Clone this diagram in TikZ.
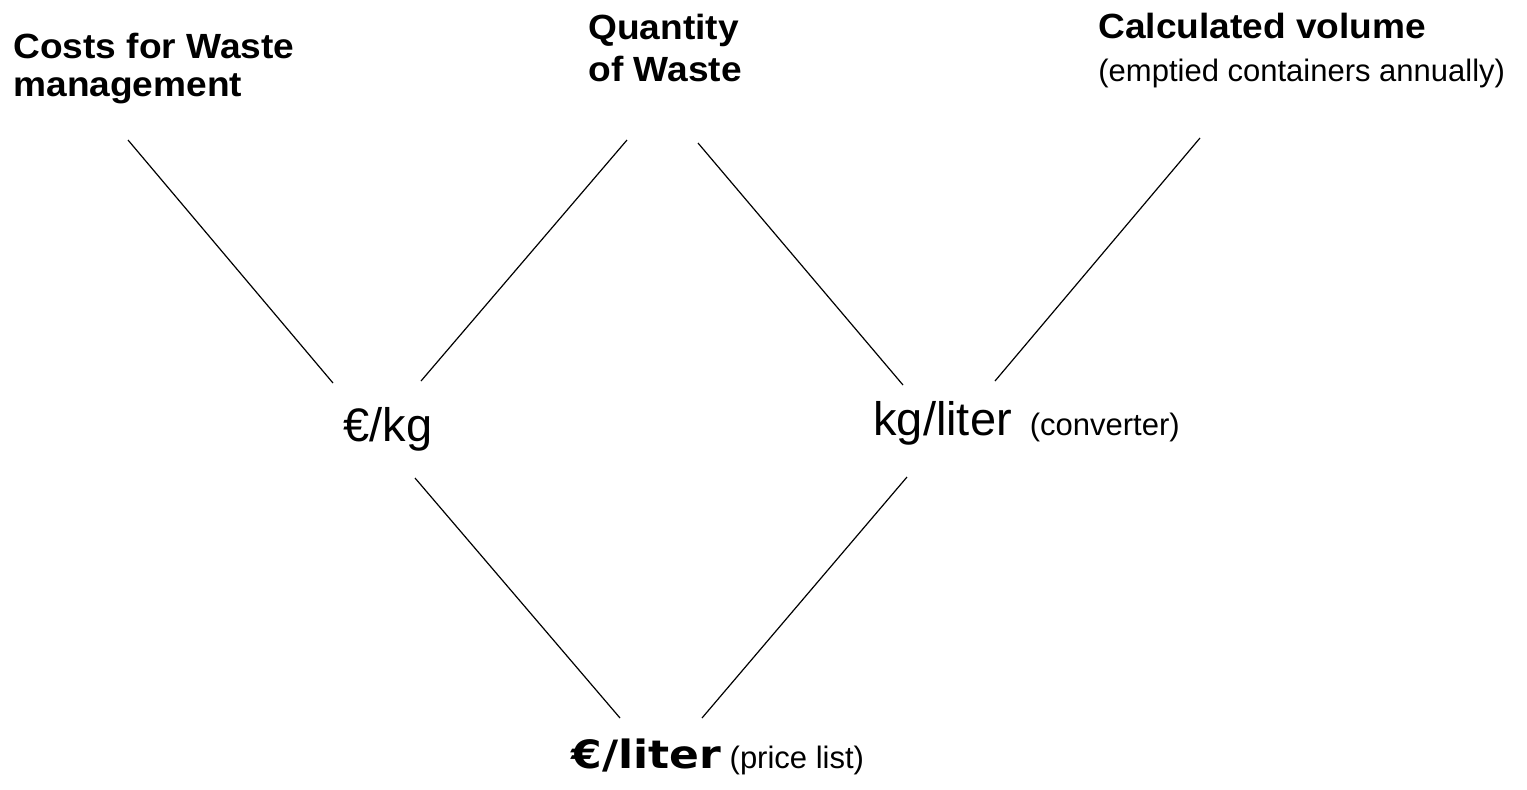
\documentclass[tikz,border=0pt]{standalone}
\usepackage{fontspec}
\setmainfont{Liberation Sans}
\newfontfamily\widebf{Liberation Sans}[FakeStretch=1.06]
\newfontfamily\heavyfont{DejaVu Sans}[FakeStretch=1.13]
\newcommand\remarkfont{\normalfont\fontsize{15.5}{22}\selectfont}
\begin{document}
\begin{tikzpicture}%
	[x=0.5pt, y=-0.5pt,
	edge/.style={black, line width=0.6pt},
	head/.style={inner sep=0pt, anchor=base west, align=left, font=\widebf\bfseries\fontsize{17.5}{19}\selectfont},
	unit/.style={inner sep=0pt, anchor=base west, font=\fontsize{23.5}{28}\selectfont},
	total/.style={inner sep=0pt, anchor=base west, font=\heavyfont\bfseries\fontsize{19.5}{23}\selectfont}]
\useasboundingbox (0,0) rectangle (1527,789);
%
%% Labels (base anchor sits on the last line):
%%
\node[head] (costs) at (13,96) {Costs for Waste\\management};
\node[head] (quantity) at (588,81) {Quantity\\[2pt]of Waste};
\node[head] (volume) at (1098,81) {Calculated volume\\[2.5pt]\remarkfont(emptied containers annually)};
\node[unit] (eurokg) at (343,441) {€/kg};
\node[unit] (kgliter) at (873,435) {kg/liter\hspace{9pt}{\remarkfont(converter)}};
\node[total] (euroliter) at (571,768) {€/liter{\remarkfont\ (price list)}};
%%
%%
%% Coordinate of the edge ends:
%%
\coordinate (costs-top) at (128,140);
\coordinate (costs-bottom) at (333,383);
\coordinate (quantity-left-top) at (627,140);
\coordinate (quantity-left-bottom) at (421,381);
\coordinate (quantity-right-top) at (698,143);
\coordinate (quantity-right-bottom) at (903,385);
\coordinate (volume-top) at (1200,138);
\coordinate (volume-bottom) at (995,381);
\coordinate (eurokg-top) at (415,478);
\coordinate (eurokg-bottom) at (620,718);
\coordinate (kgliter-top) at (907,477);
\coordinate (kgliter-bottom) at (702,718);
%%
%%
%% Drawing the edges
%%
\draw[edge] (costs-top) -- (costs-bottom);
\draw[edge] (quantity-left-top) -- (quantity-left-bottom);
\draw[edge] (quantity-right-top) -- (quantity-right-bottom);
\draw[edge] (volume-top) -- (volume-bottom);
\draw[edge] (eurokg-top) -- (eurokg-bottom);
\draw[edge] (kgliter-top) -- (kgliter-bottom);
%%
\end{tikzpicture}
\end{document}
